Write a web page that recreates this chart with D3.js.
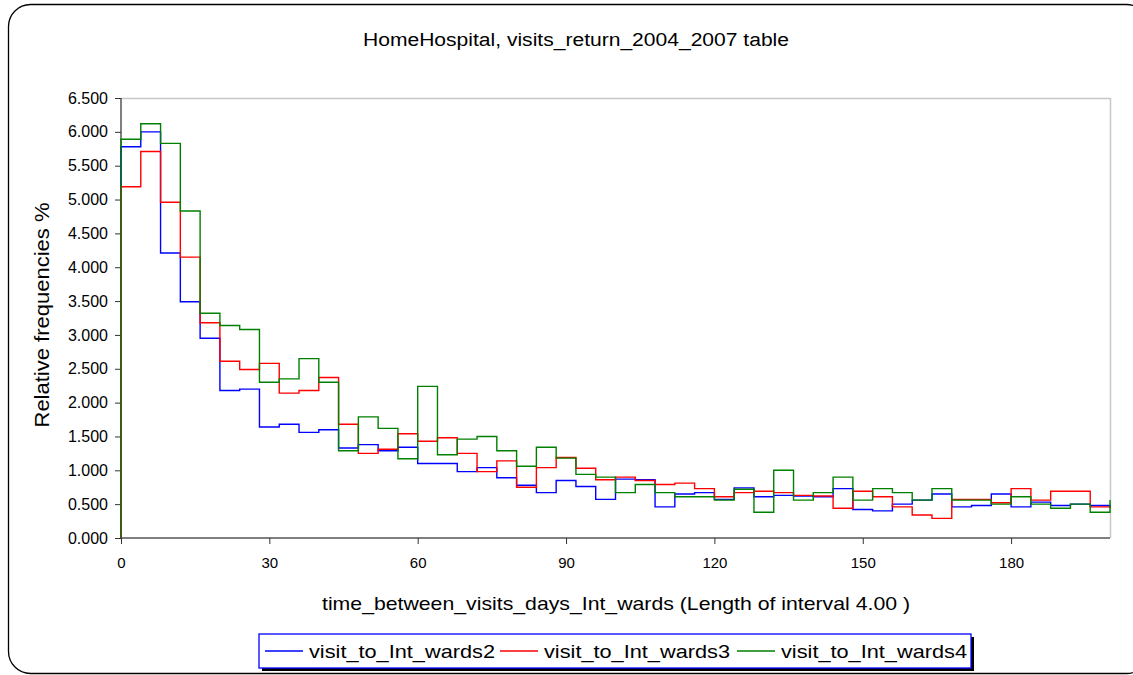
<!DOCTYPE html>
<html>
<head>
<meta charset="utf-8">
<script src="https://cdn.jsdelivr.net/npm/d3@7"></script>
<style>
  body { margin: 0; background: #fff; }
  svg text { font-family: "Liberation Sans", Arial, sans-serif; fill: #000; }
</style>
</head>
<body>
<div id="chart"></div>
<script>
// bin width 4 days, values are relative frequencies (%) per bin start
var binWidth = 4;
var seriesNames = ["visit_to_Int_wards2", "visit_to_Int_wards3", "visit_to_Int_wards4"];
var seriesColors = ["#0000ff", "#ff0000", "#008000"];

var wards2 = [5.78, 6.00, 4.21, 3.49, 2.95, 2.18, 2.20, 1.64, 1.68, 1.56, 1.60,
  1.33, 1.38, 1.29, 1.34, 1.10, 1.10, 0.98, 1.04, 0.89, 0.78, 0.67, 0.85, 0.76,
  0.57, 0.87, 0.86, 0.46, 0.65, 0.67, 0.57, 0.74, 0.61, 0.63, 0.62, 0.61, 0.73,
  0.42, 0.40, 0.50, 0.56, 0.65, 0.46, 0.48, 0.65, 0.46, 0.53, 0.48, 0.50, 0.48, 0.45];
var wards3 = [5.19, 5.71, 4.96, 4.15, 3.18, 2.61, 2.49, 2.58, 2.14, 2.18, 2.37,
  1.68, 1.25, 1.31, 1.54, 1.43, 1.48, 1.25, 0.98, 1.14, 0.75, 1.04, 1.19, 1.03,
  0.86, 0.90, 0.85, 0.79, 0.81, 0.73, 0.61, 0.67, 0.69, 0.67, 0.63, 0.62, 0.44,
  0.69, 0.61, 0.46, 0.34, 0.29, 0.57, 0.57, 0.52, 0.73, 0.56, 0.69, 0.69, 0.46, 0.44];
var wards4 = [5.89, 6.12, 5.83, 4.83, 3.32, 3.14, 3.08, 2.30, 2.35, 2.65, 2.30,
  1.29, 1.79, 1.62, 1.17, 2.24, 1.23, 1.46, 1.50, 1.29, 1.06, 1.34, 1.18, 0.94,
  0.90, 0.67, 0.79, 0.67, 0.61, 0.61, 0.56, 0.72, 0.38, 1.00, 0.56, 0.67, 0.90,
  0.56, 0.73, 0.67, 0.56, 0.73, 0.56, 0.56, 0.50, 0.61, 0.50, 0.44, 0.50, 0.38, 0.56];

var xTicks = [0, 30, 60, 90, 120, 150, 180];
var yTicks = d3.range(0, 6.5001, 0.5);

var W = 1133, H = 675;
var plot = {left: 121, top: 98, right: 1110, bottom: 538};

var svg = d3.select("#chart").append("svg")
    .attr("width", W)
    .attr("height", H);

// outer chart frame (runs off the right edge like the original)
svg.append("rect")
    .attr("x", 8.5).attr("y", 4.5)
    .attr("width", 1140).attr("height", 669)
    .attr("rx", 22).attr("ry", 22)
    .style("fill", "none")
    .style("stroke", "#000")
    .style("stroke-width", 1.3);

var x = d3.scaleLinear().domain([0, 200]).range([plot.left, plot.right]);
var y = d3.scaleLinear().domain([0, 6.5]).range([plot.bottom, plot.top]);

// plot area box: light on top/right
svg.append("path")
    .attr("d", "M" + plot.left + "," + (plot.top + 0.5) + "H" + (plot.right + 0.5) + "V" + plot.bottom)
    .style("fill", "none")
    .style("stroke", "#c8c8c8")
    .style("stroke-width", 1.5);

// axes
var gx = svg.append("g")
    .attr("transform", "translate(0," + plot.bottom + ")")
    .call(d3.axisBottom(x).tickValues(xTicks).tickSize(6).tickPadding(13).tickFormat(d3.format("d")));
gx.select(".domain").attr("d", "M" + plot.left + ",0H" + plot.right).style("stroke", "#555").style("stroke-width", 1.5);
gx.selectAll(".tick line").style("stroke", "#333");
gx.selectAll("text").style("font-size", "15px").attr("fill", "#000");

var gy = svg.append("g")
    .attr("transform", "translate(" + plot.left + ",0)")
    .call(d3.axisLeft(y).tickValues(yTicks).tickSize(6).tickPadding(7).tickFormat(d3.format(".3f")));
gy.select(".domain").attr("d", "M0," + plot.top + "V" + plot.bottom).style("stroke", "#555").style("stroke-width", 1.5);
gy.selectAll(".tick line").style("stroke", "#333");
gy.selectAll("text").style("font-size", "16px").attr("fill", "#000");

// step lines
var line = d3.line()
    .x(function(d) { return x(d[0]); })
    .y(function(d) { return y(d[1]); })
    .curve(d3.curveStepAfter);

[wards2, wards3, wards4].forEach(function(vals, i) {
    var pts = [[0, 0]].concat(vals.map(function(v, j) { return [j * binWidth, v]; }));
    svg.append("path")
        .datum(pts)
        .attr("d", line)
        .style("fill", "none")
        .style("stroke", seriesColors[i])
        .style("stroke-width", 1.4);
});

// title
svg.append("text")
    .attr("x", 576).attr("y", 46)
    .attr("text-anchor", "middle")
    .attr("textLength", 426).attr("lengthAdjust", "spacingAndGlyphs")
    .style("font-size", "18px")
    .text("HomeHospital, visits_return_2004_2007 table");

// axis titles
svg.append("text")
    .attr("x", 616).attr("y", 610)
    .attr("text-anchor", "middle")
    .attr("textLength", 588).attr("lengthAdjust", "spacingAndGlyphs")
    .style("font-size", "19px")
    .text("time_between_visits_days_Int_wards (Length of interval 4.00 )");

svg.append("text")
    .attr("transform", "translate(49,315) rotate(-90)")
    .attr("text-anchor", "middle")
    .attr("textLength", 225).attr("lengthAdjust", "spacingAndGlyphs")
    .style("font-size", "20px")
    .text("Relative frequencies %");

// legend
var lg = {x: 259, y: 634, w: 712, h: 34};
svg.append("rect")
    .attr("x", lg.x + 3).attr("y", lg.y + 3)
    .attr("width", lg.w).attr("height", lg.h)
    .style("fill", "#000");
svg.append("rect")
    .attr("x", lg.x).attr("y", lg.y)
    .attr("width", lg.w).attr("height", lg.h)
    .style("fill", "#fff")
    .style("stroke", "#0000ff")
    .style("stroke-width", 1.3);

var itemX = [265, 500, 737];
seriesNames.forEach(function(name, i) {
    var g = svg.append("g").attr("transform", "translate(" + itemX[i] + "," + (lg.y + lg.h / 2) + ")");
    g.append("line")
        .attr("x1", 0).attr("x2", 38)
        .attr("y1", 0).attr("y2", 0)
        .style("stroke", seriesColors[i])
        .style("stroke-width", 1.4);
    g.append("text")
        .attr("x", 44).attr("y", 7)
        .attr("textLength", 186).attr("lengthAdjust", "spacingAndGlyphs")
        .style("font-size", "19px")
        .text(name);
});
</script>
</body>
</html>
